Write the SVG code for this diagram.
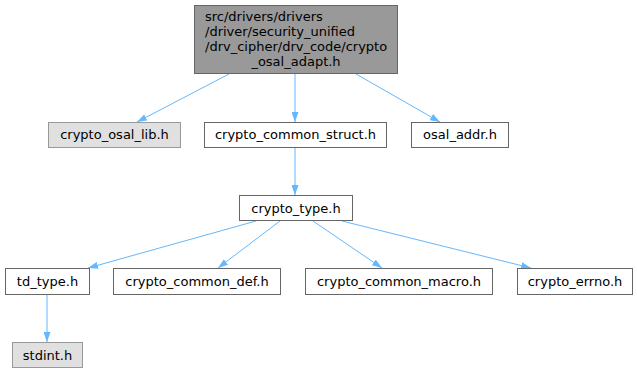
<svg xmlns="http://www.w3.org/2000/svg" width="637" height="373" viewBox="0 0 637 373">
<style>
text{font-family:"DejaVu Sans","Liberation Sans",sans-serif;font-size:13px;fill:#000}
.c{text-anchor:middle}
.w{fill:#fff;stroke:#666}
.g{fill:#e0e0e0;stroke:#999}
.m{fill:#999;stroke:#666}
.e{stroke:#63b8ff;fill:none;stroke-width:1}
</style>
<defs>
<marker id="a" viewBox="0 0 10 7" refX="10" refY="3.5" markerWidth="10" markerHeight="7" markerUnits="userSpaceOnUse" orient="auto">
<path d="M0,0L10,3.5L0,7z" fill="#63b8ff"/>
</marker>
</defs>
<g id="edges">
<path class="e" marker-end="url(#a)" d="M229,74L137,122"/>
<path class="e" marker-end="url(#a)" d="M295,74L295,122"/>
<path class="e" marker-end="url(#a)" d="M356,74L440,122"/>
<path class="e" marker-end="url(#a)" d="M295,148L295,195"/>
<path class="e" marker-end="url(#a)" d="M256,221L88,268"/>
<path class="e" marker-end="url(#a)" d="M280,221L218,268"/>
<path class="e" marker-end="url(#a)" d="M313,221L382,268"/>
<path class="e" marker-end="url(#a)" d="M342,221L531,268"/>
<path class="e" marker-end="url(#a)" d="M47,294L47,342"/>
</g>
<g id="n_top">
<rect class="m" x="194.5" y="5.5" width="203" height="68"/>
<text x="205" y="21">src/drivers/drivers</text>
<text x="205" y="36">/driver/security_unified</text>
<text x="205" y="51">/drv_cipher/drv_code/crypto</text>
<text class="c" x="296" y="66">_osal_adapt.h</text>
</g>
<g id="n_osal_lib">
<rect class="g" x="48.5" y="122.5" width="132" height="25"/>
<text class="c" x="114.5" y="139">crypto_osal_lib.h</text>
</g>
<g id="n_common_struct">
<rect class="w" x="204.5" y="122.5" width="182" height="25"/>
<text class="c" x="295.5" y="139">crypto_common_struct.h</text>
</g>
<g id="n_osal_addr">
<rect class="w" x="411.5" y="122.5" width="97" height="25"/>
<text class="c" x="460" y="139">osal_addr.h</text>
</g>
<g id="n_crypto_type">
<rect class="w" x="239.5" y="195.5" width="113" height="25"/>
<text class="c" x="296" y="212.5">crypto_type.h</text>
</g>
<g id="n_td_type">
<rect class="w" x="5.5" y="268.5" width="84" height="26"/>
<text class="c" x="47.5" y="285.5">td_type.h</text>
</g>
<g id="n_common_def">
<rect class="w" x="113.5" y="268.5" width="167" height="26"/>
<text class="c" x="197" y="285.5">crypto_common_def.h</text>
</g>
<g id="n_common_macro">
<rect class="w" x="305.5" y="268.5" width="187" height="26"/>
<text class="c" x="399" y="285.5">crypto_common_macro.h</text>
</g>
<g id="n_errno">
<rect class="w" x="517.5" y="268.5" width="115" height="26"/>
<text class="c" x="575" y="285.5">crypto_errno.h</text>
</g>
<g id="n_stdint">
<rect class="g" x="12.5" y="342.5" width="70" height="25"/>
<text class="c" x="47.5" y="359.5">stdint.h</text>
</g>
</svg>
